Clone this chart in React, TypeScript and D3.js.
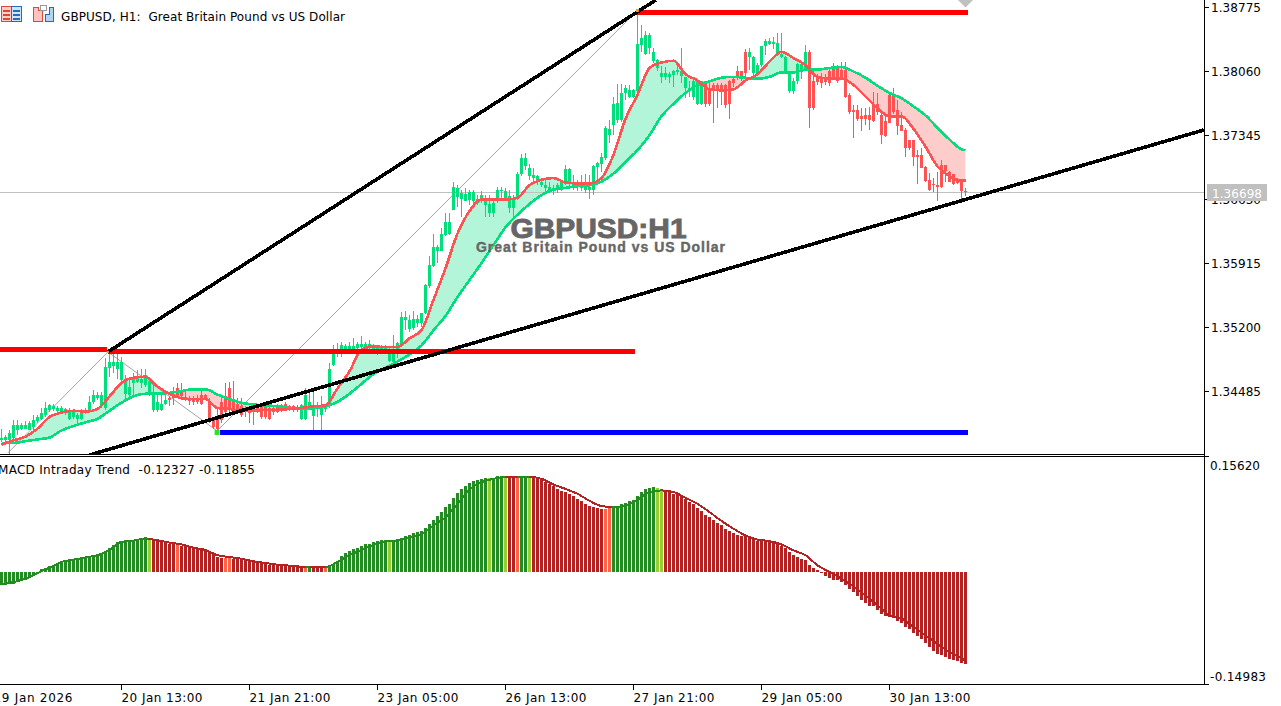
import React from "react";
import * as d3 from "d3";

// Prices are stored as pips above 1.3300
const PIP_BASE = 1.33;
const toPrice = (p: number) => PIP_BASE + p / 10000;

const bodyTopPips = [
  96,98,102,111,111,111,111,113,117,120,
  124,130,133,132,130,130,129,126,126,122,
  126,128,137,145,145,145,176,181,181,182,
  181,163,154,165,165,163,167,159,145,137,
  135,139,141,146,152,150,141,141,140,140,
  145,145,137,117,120,137,143,152,139,135,
  132,130,130,130,133,132,132,130,130,133,
  133,135,132,132,130,133,145,137,132,133,
  132,132,174,191,195,201,199,199,199,202,
  202,202,202,199,197,198,199,193,191,203,
  232,232,228,229,230,236,268,290,310,310,
  325,338,338,377,376,370,369,371,371,364,
  368,364,358,359,374,374,373,367,362,392,
  409,409,398,390,389,383,379,377,376,379,
  382,397,397,381,379,379,381,377,400,404,
  411,443,442,470,471,482,488,485,485,537,
  543,547,547,528,519,504,504,503,507,508,
  506,500,488,495,495,495,493,488,491,491,
  491,491,495,498,506,506,528,528,522,513,
  535,540,540,539,538,526,522,505,495,514,
  514,528,528,495,499,498,500,506,510,510,
  508,508,480,463,463,456,457,457,470,470,
  457,451,480,480,463,446,441,429,429,413,
  413,399,385,380,379,402,402,394,392,385,383,373,
];
const bodyBottomPips = [
  94,94,94,96,105,107,107,105,109,115,
  118,122,128,129,127,127,126,118,120,118,
  118,125,127,137,141,133,130,175,177,174,
  161,146,145,158,159,158,156,145,128,128,
  128,135,139,141,143,143,139,138,137,137,
  135,141,115,109,107,117,126,130,128,126,
  122,126,125,126,126,120,120,118,126,126,
  130,130,129,128,128,118,118,132,121,130,
  122,129,132,178,190,196,196,195,196,197,
  198,197,197,196,195,196,195,183,182,191,
  202,228,218,219,225,225,236,266,289,306,
  306,323,324,351,366,364,361,362,361,359,
  362,357,348,348,363,372,364,354,353,364,
  392,400,389,387,383,379,376,372,374,374,
  376,383,383,376,377,376,374,374,374,399,
  403,409,435,446,452,452,482,478,477,484,
  536,526,532,518,510,500,500,500,502,505,
  501,488,486,478,470,470,470,470,485,485,
  485,469,470,493,499,501,504,522,504,504,
  513,535,537,537,526,522,505,484,484,495,
  506,506,465,465,494,493,494,493,498,495,
  498,478,461,461,453,453,453,452,451,461,
  435,434,449,461,445,440,420,420,410,410,
  398,384,374,379,377,377,395,383,380,381,372,371,
];
const highPips = [
  107,100,105,117,117,113,115,115,122,122,
  130,137,135,135,132,132,130,130,129,125,
  129,130,143,150,148,148,186,193,191,191,
  187,167,163,169,172,174,174,161,156,146,
  145,146,143,154,158,158,150,143,143,145,
  150,146,141,118,130,143,158,159,160,141,
  141,132,132,132,135,133,133,132,133,135,
  135,137,133,133,133,135,152,150,152,137,
  143,133,180,200,203,204,202,204,208,204,
  211,204,206,202,199,200,200,197,212,204,
  237,238,234,238,234,236,269,300,324,312,
  331,348,348,383,379,374,376,374,374,368,
  372,368,368,362,377,377,376,374,368,394,
  414,415,403,398,390,385,385,383,379,381,
  383,402,398,390,385,390,392,390,402,405,
  415,445,452,478,492,492,491,491,487,573,
  558,551,549,532,520,512,511,505,508,516,
  532,500,495,498,495,495,493,493,493,493,
  493,492,497,500,512,507,531,532,523,515,
  535,542,543,545,549,549,523,506,499,515,
  517,536,530,506,503,504,503,511,515,513,
  517,517,482,469,469,465,465,466,483,482,
  461,456,482,488,474,461,443,430,430,418,
  420,400,393,387,394,407,402,395,392,387,385,376,
];
const lowPips = [
  92,92,79,94,100,105,107,105,105,113,
  117,120,126,127,125,126,122,117,118,113,
  117,123,125,135,139,132,128,165,169,163,
  158,137,141,143,158,152,154,143,126,126,
  127,133,132,133,141,141,138,133,133,135,
  133,139,113,107,105,113,124,126,126,124,
  120,120,113,111,124,118,118,117,122,124,
  126,128,127,126,126,117,117,130,105,120,
  105,126,130,177,187,187,191,191,193,195,
  195,193,192,193,189,194,193,182,180,186,
  200,217,215,217,221,221,235,264,288,292,
  305,322,323,351,355,344,361,357,357,357,
  359,344,344,344,359,362,361,348,344,362,
  389,396,385,383,379,377,370,370,368,370,
  372,379,377,374,372,372,370,364,368,385,
  394,407,426,435,448,450,474,476,476,484,
  528,524,526,515,507,493,496,493,489,502,
  493,476,478,474,469,469,466,467,448,465,
  469,465,453,489,497,495,498,508,502,502,
  511,524,536,531,523,521,503,482,481,492,
  498,506,443,463,491,488,491,490,497,493,
  497,476,459,432,451,439,446,441,450,457,
  425,433,448,459,435,439,411,418,400,380,
  398,383,372,371,361,376,383,382,379,380,362,367,
];
// Runs of bars drawn red by the template
const redCandleRuns = [[42, 74], [176, 186], [202, 241]];

// Moving averages, read every third bar
const knotBars = [...d3.range(0, 241, 3), 241];
const fastPips = [
  89,94,98,107,120,125,127,126,129,143,158,164,165,154,146,141,140,140,130,129,127,127,128,128,129,130,132,133,152,
  171,195,199,198,198,208,217,251,286,325,350,363,363,363,365,379,385,387,382,381,381,387,413,
  453,480,510,516,518,503,496,486,485,486,496,503,517,528,521,513,500,498,498,491,478,465,456,456,442,422,400,389,384,384,
];
const slowPips = [
  91,91,93,95,97,105,110,114,118,127,136,143,146,146,147,149,151,151,145,140,136,134,133,132,130,129,130,132,137,
  146,157,168,175,182,190,200,217,233,254,273,292,312,332,346,358,368,374,376,378,379,383,392,
  405,418,435,456,470,482,491,495,499,500,499,498,500,505,505,508,508,510,511,506,499,490,482,476,467,457,443,430,419,418,
];

// MACD values in thousandths
const macdMilli = [
  -17.4,-16.5,-16,-15,-13.4,-11.6,-9.8,-7,-5.4,-2.7,
  4.9,6.3,8.9,10.3,12.5,13.9,15.6,17,17.9,18.3,
  18.8,19.2,21,22.4,23.7,25.5,29,32.2,36.2,40.7,
  42,42.5,42.9,43.4,43.8,44.7,46,44.3,42.9,41.6,
  40.7,39.8,38.4,38.4,36.7,35.8,34.9,33.5,32.6,31.7,
  31.3,30.4,28.6,24.1,20.1,19.2,18.8,20.1,18.3,17.9,
  17,16.1,14.8,13.9,13.9,12.5,11.2,10.3,10.3,9.8,
  9.4,8.9,8.5,8,8,7.2,6.3,7.2,6.3,5.8,
  5.8,6.3,8,10.7,14.8,21.5,25.5,28.2,30.8,33.1,
  35.8,37.5,38.4,40.2,41.6,42.9,42.9,42,42.5,43.8,
  46.5,48.3,49.6,52.3,53.6,55,59,64.4,69.7,75.1,
  80.5,87.2,91.2,99.2,105.9,111.3,115.3,119.3,122,124.3,
  125.6,127,127,127,128.7,127.8,127.8,127.8,127,127,
  128.3,127.8,127.4,126,126,124.7,121.1,118,115.3,111.3,
  109.1,107.3,104.6,101.9,97.9,95.2,91.2,88.5,87.2,85.8,
  84.5,85.4,86.3,87.2,89,91.2,93.4,95.2,96.6,101.9,
  107.3,111.3,112.6,114,112.6,109,109,107.3,105.5,104.6,
  101.9,97.9,93.9,91.2,85.8,81.8,76.4,73.8,69.7,65.7,
  63,57.7,55,52.3,49.6,48.3,48.3,46.9,44.3,41.6,
  41.6,41.6,40.2,38.9,37.5,34.9,32.2,26.8,22.8,20.1,
  17.4,16.1,9.4,5.4,2.7,0.4,-5.4,-7.2,-9.8,-10.7,
  -13.4,-17.4,-22.8,-26.8,-32.2,-37.5,-41.6,-45.6,-45.6,-51,
  -56.3,-59,-60.3,-61.7,-65.7,-68.4,-73.8,-76.4,-81.8,-85.8,
  -89.8,-95.2,-100.6,-105.9,-110,-111.3,-114,-116.7,-118,-119.4,-122,-123.3,
];
const signalMilli = [
  -16.5,-13,-8.5,-1,6.3,14,17,20,23,30,41,42.5,45.6,43,40,37.5,33,30,23,20.6,18.3,15,12.5,10.3,9,7.6,7,7,14,
  23,30,37,41.6,43,46.5,51,63,74,92,111,121,125.6,128,128,128,125.6,118,112,105.5,96,89,87.6,
  90,97.4,108,110,108,100,92,81,69,58.6,49.6,44,42,37.5,29.5,23,9.4,0.4,-8.5,-19,-31,-44,-58,-62,-73,-84.5,-96,-107,-115,-118.5,
];
const limeBars = [37, 97, 122, 126, 132, 164, 165];
const tomatoBars = [44, 56, 57, 76, 81, 129, 151, 152];
const firebrickRuns = [[38, 75], [78, 80], [127, 128], [133, 150], [166, 241]];
const signalFallingRuns = [[36.7, 76], [77, 81], [126, 129], [132, 152.5], [165, 241.5]];

// Drawn objects, as [bar, price]
const upperTrend = [[26.6, 1.34927], [163.6, 1.38859]];
const lowerTrend = [[22.1, 1.33777], [300.6, 1.37407]];
const zigzag = [[1.6, 1.33799], [26.6, 1.34927], [53.9, 1.34045], [159.1, 1.38747]];
const redLevels = [
  { from: -1, to: 26.4, price: 1.34953 },
  { from: 26.6, to: 158.4, price: 1.34933 },
  { from: 158.9, to: 241.6, price: 1.38719 },
];
const blueLevel = { from: 54.6, to: 241.6, price: 1.34028 };
const lastPriceLine = 1.3671;

const priceTicks = ["1.38775", "1.38060", "1.37345", "1.36630", "1.35915", "1.35200", "1.34485"];
const macdTicks = ["0.15620", "-0.14983"];
const timeLabels = [
  { bar: -2, text: "19 Jan 2026" },
  { bar: 30, text: "20 Jan 13:00" },
  { bar: 62, text: "21 Jan 21:00" },
  { bar: 94, text: "23 Jan 05:00" },
  { bar: 126, text: "26 Jan 13:00" },
  { bar: 158, text: "27 Jan 21:00" },
  { bar: 190, text: "29 Jan 05:00" },
  { bar: 222, text: "30 Jan 13:00" },
];

const GREEN = "#00DF7C";
const RED = "#FF5252";
const AXIS_X = 1204;
const UI_FONT = "'DejaVu Sans', sans-serif";

const xB = d3.scaleLinear().domain([0, 241]).range([1.5, 965.5]);
const yP = d3.scaleLinear().domain([1.34485, 1.38775]).range([391.5, 7.5]);
const yM = d3.scaleLinear().domain([-0.14983, 0.1562]).range([684, 456]);

const inRuns = (runs: number[][], k: number) => runs.some(([a, b]) => k >= a && k <= b);

function barColor(k: number) {
  if (tomatoBars.includes(k)) return "#FF6347";
  if (limeBars.includes(k)) return "#9ACD32";
  return inRuns(firebrickRuns, k) ? "#B22222" : "#228B22";
}

export default function App() {
  const maPoints = knotBars.map((k, i) => ({
    x: xB(k),
    fast: yP(toPrice(fastPips[i])),
    slow: yP(toPrice(slowPips[i])),
    sig: yM(signalMilli[i] / 1000),
  }));
  const curve = d3.curveMonotoneX;
  const fastLine = d3.line<any>().x((d) => d.x).y((d) => d.fast).curve(curve)(maPoints)!;
  const slowLine = d3.line<any>().x((d) => d.x).y((d) => d.slow).curve(curve)(maPoints)!;
  const signalLine = d3.line<any>().x((d) => d.x).y((d) => d.sig).curve(curve)(maPoints)!;
  const band = d3.area<any>().x((d) => d.x).y0((d) => d.slow).y1((d) => d.fast).curve(curve)(maPoints)!;
  const aboveSlow = d3.area<any>().x((d) => d.x).y0(0).y1((d) => d.slow).curve(curve)(maPoints)!;
  const belowSlow = d3.area<any>().x((d) => d.x).y0(455).y1((d) => d.slow).curve(curve)(maPoints)!;

  const objLine = d3.line<number[]>().x((d) => xB(d[0])).y((d) => yP(d[1]));

  return (
    <svg
      width={1281}
      height={706}
      style={{ position: "absolute", left: 0, top: 0, display: "block", background: "#fff" }}
    >
      <defs>
        <clipPath id="mainPane"><rect x={0} y={0} width={AXIS_X} height={454} /></clipPath>
        <clipPath id="aboveSlow"><path d={aboveSlow} /></clipPath>
        <clipPath id="belowSlow"><path d={belowSlow} /></clipPath>
        <clipPath id="falling">
          {signalFallingRuns.map(([a, b]) => (
            <rect key={a} x={xB(a)} y={456} width={xB(b) - xB(a)} height={228} />
          ))}
        </clipPath>
      </defs>

      <g clipPath="url(#mainPane)">
        <path d={band} fill="#B2F5D8" clipPath="url(#aboveSlow)" />
        <path d={band} fill="#FFCCCC" clipPath="url(#belowSlow)" />

        <line x1={0} x2={AXIS_X} y1={Math.round(yP(lastPriceLine)) + 0.5} y2={Math.round(yP(lastPriceLine)) + 0.5} stroke="#C0C0C0" />

        <path d={objLine(zigzag)!} fill="none" stroke="#8A8A8A" strokeWidth={0.8} />

        <g shapeRendering="crispEdges">
          {bodyTopPips.map((t, k) => {
            const col = inRuns(redCandleRuns, k) ? RED : GREEN;
            const top = Math.round(yP(toPrice(t)));
            const bot = Math.round(yP(toPrice(bodyBottomPips[k])));
            const hi = Math.round(yP(toPrice(highPips[k])));
            const lo = Math.round(yP(toPrice(lowPips[k])));
            const x = xB(k);
            return (
              <g key={k} fill={col}>
                <rect x={x - 0.5} y={hi} width={1} height={Math.max(1, lo - hi)} />
                <rect x={x - 1.5} y={top} width={3} height={Math.max(1, bot - top)} />
              </g>
            );
          })}
        </g>

        <path d={slowLine} fill="none" stroke={GREEN} strokeWidth={2.6} shapeRendering="crispEdges" />
        <path d={fastLine} fill="none" stroke={RED} strokeWidth={2.6} shapeRendering="crispEdges" />

        <g shapeRendering="crispEdges">
          {redLevels.map((l) => (
            <line key={l.from} x1={xB(l.from)} x2={xB(l.to)} y1={yP(l.price)} y2={yP(l.price)} stroke="#FF0000" strokeWidth={5} />
          ))}
          <line x1={xB(blueLevel.from)} x2={xB(blueLevel.to)} y1={yP(blueLevel.price)} y2={yP(blueLevel.price)} stroke="#0000FF" strokeWidth={5} />
          <path d={objLine(upperTrend)!} stroke="#000" strokeWidth={3.6} fill="none" />
          <path d={objLine(lowerTrend)!} stroke="#000" strokeWidth={3.6} fill="none" />
        </g>

        <rect x={xB(zigzag[2][0]) - 2.5} y={yP(blueLevel.price) - 2.5} width={5} height={5} fill="#22E622" />
        <rect x={xB(zigzag[1][0]) - 1} y={yP(zigzag[1][1]) - 1} width={2} height={2} fill="#FF9A1F" />
        <rect x={xB(zigzag[3][0]) - 2} y={yP(zigzag[3][1]) - 1} width={3} height={3} fill="#FF9A1F" />
        <path d={`M${xB(241) - 7.5} 0 L${xB(241) + 7.5} 0 L${xB(241)} 7.5 Z`} fill="#C0C0C0" />
      </g>

      {/* Watermark */}
      <text x={510.5} y={238} fontFamily="'Liberation Sans', Arial, sans-serif" fontWeight={700} fontSize={27.5} fill="#666" stroke="#666" strokeWidth={0.9} textLength={176} lengthAdjust="spacingAndGlyphs">
        GBPUSD:H1
      </text>
      <text x={476} y={252} fontFamily="'Liberation Sans', Arial, sans-serif" fontWeight={700} fontSize={14} fill="#666" stroke="#666" strokeWidth={0.4} textLength={249} lengthAdjust="spacing">
        Great Britain Pound vs US Dollar
      </text>

      {/* Header icons */}
      <g shapeRendering="crispEdges" strokeWidth={1}>
        <rect x={1.5} y={6.5} width={10} height={15} fill="#FBD0CB" stroke="#E0443A" />
        <rect x={11.5} y={6.5} width={10} height={15} fill="#CFE4F8" stroke="#1F6FB8" />
        <path d="M3 10.5H10M3 14.5H10M3 18.5H10" stroke="#E0443A" strokeWidth={2} />
        <path d="M13 10.5H20M13 14.5H20M13 18.5H20" stroke="#1F6FB8" strokeWidth={2} />
        <path d="M33.5 7.5H38.5V10.5H42.5V21.5H33.5Z" fill="#FBC4BE" stroke="#E0443A" />
        <path d="M49.5 7.5H53.5V21.5H45.5V14.5H49.5Z" fill="#AFD4F4" stroke="#1F6FB8" />
        <rect x={40.5} y={5.5} width={6} height={5} fill="#fff" stroke="#999" />
      </g>
      <text x={61} y={20.5} fontFamily={UI_FONT} fontSize={12} fill="#000" textLength={284} lengthAdjust="spacing" xmlSpace="preserve">
        GBPUSD, H1:  Great Britain Pound vs US Dollar
      </text>

      {/* MACD pane */}
      <g shapeRendering="crispEdges">
        {macdMilli.map((v, k) => {
          const y0 = Math.round(yM(0));
          const y1 = Math.round(yM(v / 1000));
          return (
            <rect key={k} x={xB(k) - 1.5} y={Math.min(y0, y1)} width={3} height={Math.max(1, Math.abs(y1 - y0))} fill={barColor(k)} />
          );
        })}
        <path d={signalLine} fill="none" stroke="#228B22" strokeWidth={2} />
        <path d={signalLine} fill="none" stroke="#B22222" strokeWidth={2} clipPath="url(#falling)" />
      </g>
      <text x={-2} y={473.5} fontFamily={UI_FONT} fontSize={12} fill="#000" textLength={257} lengthAdjust="spacing" xmlSpace="preserve">
        MACD Intraday Trend  -0.12327 -0.11855
      </text>

      {/* Frame */}
      <g stroke="#000" shapeRendering="crispEdges">
        <line x1={AXIS_X + 0.5} x2={AXIS_X + 0.5} y1={0} y2={685} />
        <line x1={0} x2={AXIS_X} y1={454.5} y2={454.5} />
        <line x1={0} x2={AXIS_X + 5} y1={456.5} y2={456.5} />
        <line x1={0} x2={AXIS_X + 5} y1={684.5} y2={684.5} />
        {priceTicks.map((t) => (
          <line key={t} x1={AXIS_X} x2={AXIS_X + 5} y1={Math.floor(yP(+t)) + 0.5} y2={Math.floor(yP(+t)) + 0.5} />
        ))}
        {timeLabels.slice(1).map((t) => (
          <line key={t.bar} x1={xB(t.bar) - 0.5} x2={xB(t.bar) - 0.5} y1={685} y2={690} />
        ))}
      </g>

      <g fontFamily={UI_FONT} fontSize={12} fill="#000">
        {priceTicks.map((t) => (
          <text key={t} x={1211} y={yP(+t) + 4.2} textLength={50} lengthAdjust="spacing">{t}</text>
        ))}
        {macdTicks.map((t, i) => (
          <text key={t} x={1210} y={i === 0 ? 469.5 : 680.5} textLength={t.length === 7 ? 50 : 56} lengthAdjust="spacing">{t}</text>
        ))}
        {timeLabels.map((t) => (
          <text key={t.bar} x={xB(t.bar)} y={702} textLength={t.bar < 0 ? 79 : 81} lengthAdjust="spacing">{t.text}</text>
        ))}
      </g>

      <rect x={1207} y={184} width={60} height={17} fill="#C0C0C0" />
      <text x={1212} y={197.5} fontFamily={UI_FONT} fontSize={12} fill="#fff" textLength={50} lengthAdjust="spacing">1.36698</text>
    </svg>
  );
}
